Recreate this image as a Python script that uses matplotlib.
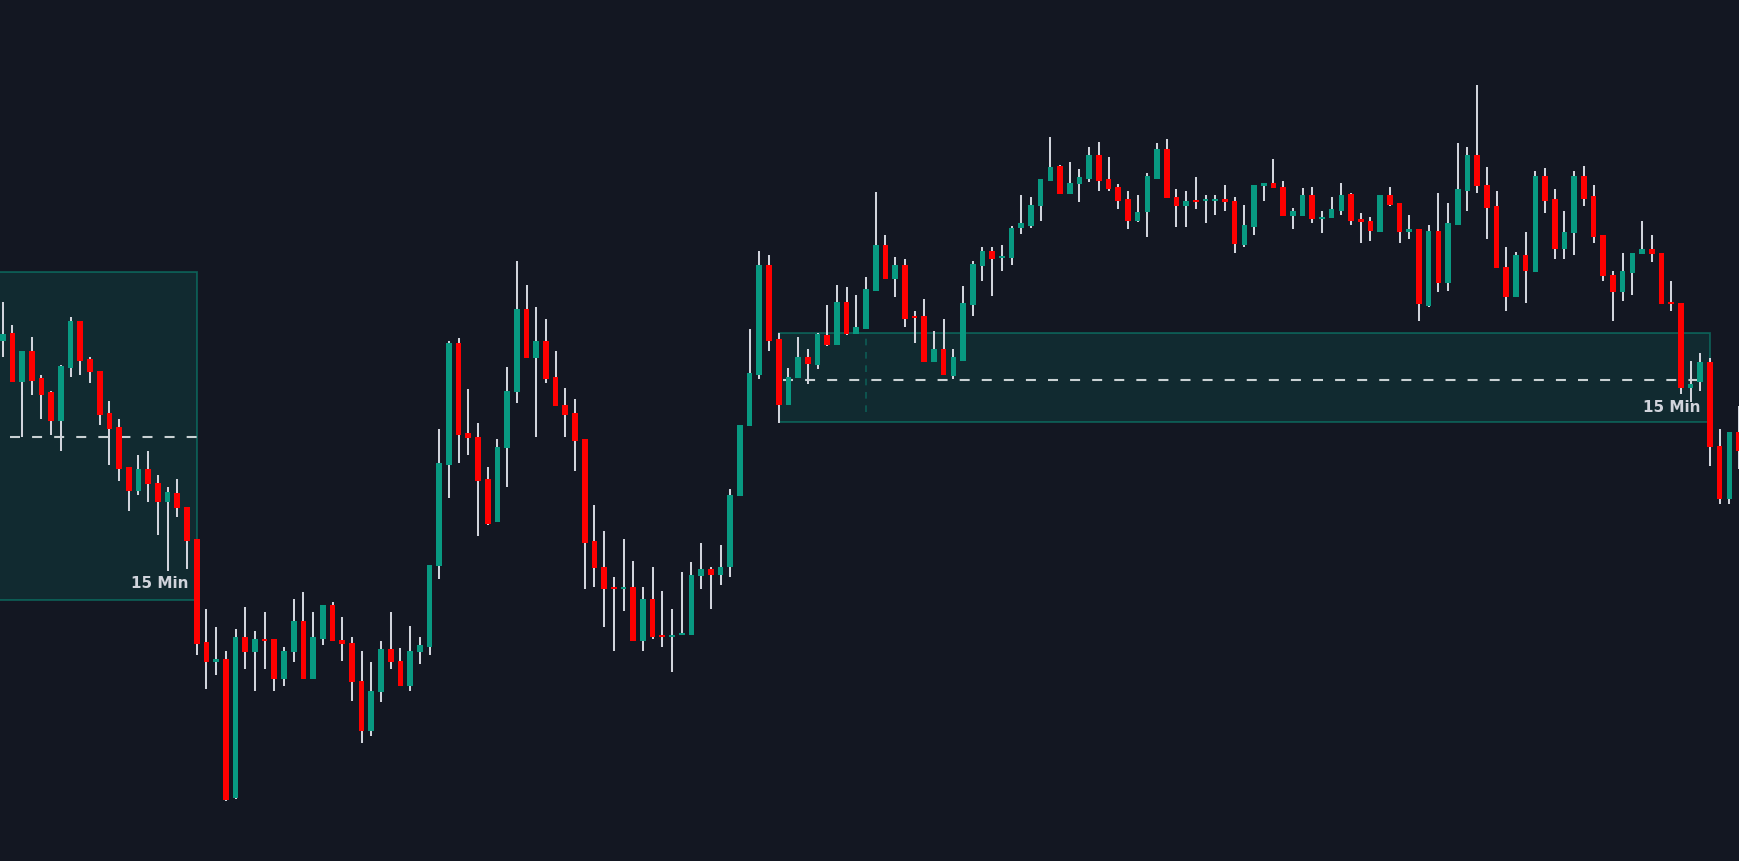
import numpy as np
import matplotlib.pyplot as plt
from matplotlib.patches import Rectangle

# OHLC series (price units, one candle per 15 min bar)
opens = [520, 528, 479, 510, 483, 469, 440, 493, 540, 502,
         490, 448, 434, 394, 370, 392, 378, 359, 368, 354,
         322, 219, 199, 202, 63, 224, 209, 222, 222, 182,
         209, 240, 182, 222, 256, 221, 218, 180, 130, 169,
         212, 200, 175, 209, 214, 295, 396, 518, 428, 424,
         382, 339, 413, 469, 552, 503, 520, 484, 456, 448,
         422, 320, 294, 274, 272, 274, 220, 262, 226, 224,
         226, 226, 285, 292, 286, 294, 365, 435, 486, 596,
         522, 456, 483, 504, 496, 526, 516, 559, 527, 532,
         570, 616, 582, 596, 545, 545, 499, 512, 485, 500,
         556, 595, 610, 603, 603, 633, 635, 655, 680, 695,
         667, 677, 682, 706, 682, 674, 662, 640, 649, 682,
         712, 664, 655, 660, 660, 660, 662, 660, 616, 634,
         675, 678, 674, 645, 645, 666, 642, 643, 650, 667,
         642, 640, 629, 666, 658, 629, 632, 555, 630, 578,
         636, 670, 706, 676, 655, 594, 564, 606, 589, 685,
         662, 612, 628, 685, 665, 626, 586, 569, 588, 607,
         612, 608, 558, 558, 473, 479, 499, 415, 362, 429]

highs = [559, 536, 510, 524, 486, 470, 496, 544, 540, 504,
         490, 460, 442, 394, 406, 410, 386, 374, 382, 354,
         322, 252, 234, 210, 232, 254, 230, 249, 222, 214,
         262, 269, 249, 256, 259, 244, 224, 210, 199, 220,
         249, 213, 235, 224, 296, 432, 520, 523, 472, 438,
         394, 422, 494, 600, 576, 554, 542, 510, 473, 462,
         422, 356, 330, 284, 322, 300, 274, 294, 270, 252,
         289, 299, 318, 294, 316, 372, 436, 532, 610, 606,
         528, 493, 524, 512, 528, 556, 576, 574, 566, 584,
         669, 626, 604, 602, 550, 562, 530, 542, 512, 575,
         600, 614, 614, 616, 635, 666, 664, 682, 724, 696,
         699, 692, 714, 719, 704, 677, 670, 666, 688, 718,
         722, 672, 670, 684, 666, 666, 676, 664, 656, 676,
         678, 702, 680, 653, 673, 674, 650, 664, 678, 668,
         648, 644, 666, 674, 658, 646, 632, 636, 668, 658,
         718, 714, 776, 694, 670, 614, 609, 629, 690, 693,
         672, 650, 690, 695, 676, 626, 590, 608, 608, 640,
         626, 608, 580, 558, 500, 508, 503, 432, 429, 455]

lows = [504, 479, 424, 466, 442, 426, 410, 484, 486, 478,
        436, 396, 380, 350, 366, 359, 326, 290, 344, 292,
        206, 172, 186, 60, 62, 192, 170, 192, 170, 175,
        199, 182, 182, 216, 220, 200, 160, 118, 125, 159,
        192, 175, 170, 197, 206, 282, 363, 398, 406, 325,
        336, 339, 374, 458, 503, 424, 478, 455, 424, 390,
        272, 274, 234, 210, 250, 220, 210, 222, 214, 189,
        226, 226, 272, 252, 276, 284, 365, 435, 482, 510,
        438, 456, 483, 477, 492, 515, 516, 526, 527, 532,
        570, 582, 564, 534, 518, 499, 499, 486, 482, 500,
        545, 580, 565, 590, 596, 627, 633, 640, 680, 667,
        667, 659, 679, 670, 670, 652, 632, 639, 624, 682,
        663, 634, 634, 652, 638, 646, 650, 608, 614, 626,
        660, 673, 645, 632, 645, 638, 628, 643, 646, 636,
        618, 620, 629, 655, 618, 622, 540, 554, 569, 570,
        636, 650, 668, 622, 593, 550, 564, 558, 589, 648,
        602, 602, 606, 655, 618, 580, 540, 560, 566, 607,
        599, 557, 550, 467, 459, 470, 395, 357, 357, 392]

closes = [527, 479, 510, 480, 466, 440, 495, 540, 500, 489,
          446, 432, 392, 370, 392, 377, 359, 369, 353, 320,
          217, 199, 202, 61, 224, 209, 222, 220, 182, 210,
          240, 182, 224, 256, 220, 217, 179, 130, 170, 212,
          199, 175, 210, 216, 296, 398, 518, 426, 423, 380,
          337, 414, 470, 552, 503, 520, 482, 455, 446, 420,
          318, 293, 272, 272, 274, 220, 262, 224, 224, 226,
          228, 286, 292, 286, 294, 366, 436, 488, 596, 520,
          456, 484, 504, 497, 527, 516, 559, 527, 534, 572,
          616, 582, 596, 542, 543, 499, 512, 486, 504, 558,
          597, 610, 602, 604, 633, 638, 656, 682, 694, 667,
          678, 684, 706, 680, 672, 660, 640, 649, 685, 712,
          663, 655, 660, 659, 662, 662, 659, 617, 636, 676,
          678, 673, 645, 650, 666, 642, 644, 652, 666, 640,
          639, 630, 666, 656, 629, 632, 557, 630, 578, 638,
          672, 706, 675, 653, 593, 564, 606, 590, 685, 660,
          612, 629, 685, 662, 624, 585, 569, 590, 608, 612,
          607, 557, 557, 473, 477, 499, 414, 362, 429, 410]

# 15 min zones: (first bar, last bar, bottom, top, mid level)
zone1 = (-5, 20, 261, 589, 424)
zone2 = (80, 176, 439, 528, 481.5)

bg = '#131722'
up_col = '#089981'
dn_col = '#ff0000'
wick_col = '#d1d4dc'

o = np.array(opens)
h = np.array(highs)
l = np.array(lows)
c = np.array(closes)
x = np.arange(len(o))
cols = np.where(c >= o, up_col, dn_col)

fig = plt.figure(figsize=(17.4, 8.62), dpi=100)
fig.patch.set_facecolor(bg)
ax = fig.add_axes([0, 0, 1, 1])
ax.set_facecolor(bg)

# zones
for x0, x1, y0, y1, mid in [zone1, zone2]:
    ax.add_patch(Rectangle((x0, y0), x1 - x0, y1 - y0, facecolor=up_col,
                           alpha=0.15, edgecolor='none', zorder=1))
    ax.add_patch(Rectangle((x0, y0), x1 - x0, y1 - y0, facecolor='none',
                           edgecolor=up_col, alpha=0.5, lw=1.3, zorder=1))
ax.hlines(zone1[4], 0.75, zone1[1], color='#c9d1d3', lw=1.5,
          linestyles=(0, (4.8, 5.8)), zorder=2)
ax.hlines(zone2[4], 80.4, zone2[1], color='#c9d1d3', lw=1.5,
          linestyles=(0, (4.8, 5.8)), zorder=2)
ax.vlines(89, zone2[2] + 10, zone2[3], color=up_col, alpha=0.45, lw=1.2,
          linestyles=(0, (4, 4)), zorder=2)

# candles
ax.vlines(x, l, h, color=wick_col, lw=1.45, zorder=3)
body_lo = np.minimum(o, c)
body_h = np.maximum(np.abs(c - o), 2)
ax.bar(x, body_h, bottom=body_lo, width=0.58, color=cols, linewidth=0, zorder=4)

ax.text(19.2, 279, '15 Min', color=wick_col, fontsize=11, fontweight='bold',
        ha='right', va='center', zorder=5)
ax.text(175.0, 455, '15 Min', color=wick_col, fontsize=11, fontweight='bold',
        ha='right', va='center', zorder=5)

ax.set_xlim(-0.278, 179.1)
ax.set_ylim(0, 862)
ax.axis('off')

fig.savefig('out.png', dpi=100, facecolor=bg)
